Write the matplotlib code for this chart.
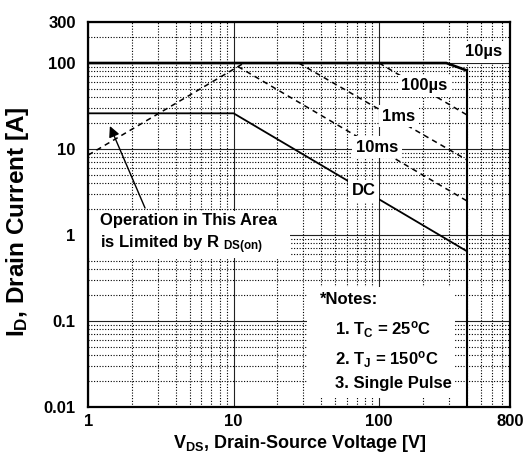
import matplotlib
matplotlib.use('Agg')
import matplotlib.pyplot as plt
from matplotlib.patches import Rectangle
from matplotlib.ticker import NullFormatter, FixedLocator, LogLocator

plt.rcParams['font.family'] = ['Liberation Sans', 'DejaVu Sans']
plt.rcParams['font.weight'] = 'bold'
plt.rcParams['mathtext.fontset'] = 'custom'
plt.rcParams['mathtext.rm'] = 'Liberation Sans:bold'
plt.rcParams['mathtext.it'] = 'Liberation Sans:bold'
plt.rcParams['mathtext.bf'] = 'Liberation Sans:bold'
plt.rcParams['mathtext.default'] = 'bf'

# ---- data ----
v_10us = [1, 290, 400]
i_10us = [100, 100, 82]
v_100us = [100, 400]
i_100us = [100, 25]
v_1ms = [28, 400]
i_1ms = [100, 7.5]
v_10ms = [10.7, 400]
i_10ms = [91, 2.5]
v_dc = [1, 10, 400]
i_dc = [26, 26, 0.65]
v_rds = [1, 11.8]
i_rds = [8.5, 100]
v_bv = [400, 400]
i_bv = [0.01, 82]

x_ticks = [1, 10, 100, 800]
x_ticklabels = ['1', '10', '100', '800']
y_ticks = [0.01, 0.1, 1, 10, 100, 300]
y_ticklabels = ['0.01', '0.1', '1', '10', '100', '300']

fig = plt.figure(figsize=(5.28, 4.57), dpi=100)
ax = fig.add_axes([0.1670, 0.1094, 0.7998, 0.8425])
ax.set_xscale('log')
ax.set_yscale('log')
ax.set_xlim(1, 800)
ax.set_ylim(0.01, 300)

ax.xaxis.set_major_locator(FixedLocator(x_ticks))
ax.set_xticklabels(x_ticklabels)
ax.yaxis.set_major_locator(FixedLocator(y_ticks))
ax.set_yticklabels(y_ticklabels)
ax.xaxis.set_minor_locator(LogLocator(base=10, subs=range(2, 10), numticks=20))
ax.yaxis.set_minor_locator(LogLocator(base=10, subs=range(2, 10), numticks=20))
ax.xaxis.set_minor_formatter(NullFormatter())
ax.yaxis.set_minor_formatter(NullFormatter())

ax.grid(which='major', color='#222222', lw=0.8, ls='-', zorder=1)
ax.grid(which='minor', color='black', lw=0.8, ls=(0, (1, 1.5)), zorder=1)
ax.tick_params(which='both', length=0)
ax.tick_params(axis='x', labelsize=12, pad=5)
ax.tick_params(axis='y', labelsize=12, pad=9)
for lab in ax.get_xticklabels() + ax.get_yticklabels():
    lab.set_fontweight('bold')
for s in ax.spines.values():
    s.set_linewidth(1.6)

# white areas behind annotations
ax.add_patch(Rectangle((0.0, 0.387), 0.478, 0.122, transform=ax.transAxes,
                       facecolor='white', edgecolor='none', zorder=1.8))
ax.add_patch(Rectangle((0.518, 0.023), 0.351, 0.289, transform=ax.transAxes,
                       facecolor='white', edgecolor='none', zorder=1.8))

dash = (0, (3.5, 2.8))
ax.plot(v_10us, i_10us, color='black', lw=1.9, zorder=3)
ax.plot(v_bv, i_bv, color='black', lw=1.5, zorder=3)
ax.plot(v_100us, i_100us, color='black', lw=1.1, ls=dash, zorder=3)
ax.plot(v_1ms, i_1ms, color='black', lw=1.1, ls=dash, zorder=3)
ax.plot(v_10ms, i_10ms, color='black', lw=1.1, ls=dash, zorder=3)
ax.plot(v_rds, i_rds, color='black', lw=1.1, ls=dash, zorder=3)
ax.plot(v_dc, i_dc, color='black', lw=1.3, zorder=3)

lbl = dict(transform=ax.transAxes, ha='center', va='center', fontsize=12,
           fontweight='bold', zorder=5,
           bbox=dict(facecolor='white', edgecolor='none', pad=2.5))
ax.text(0.937, 0.923, '10µs', **lbl)
ax.text(0.796, 0.835, '100µs', **lbl)
ax.text(0.736, 0.755, '1ms', **lbl)
ax.text(0.684, 0.674, '10ms', **lbl)
ax.text(0.653, 0.562, 'DC', **lbl)

ax.text(0.027, 0.448, 'Operation in This Area\nis Limited by R $_{DS(on)}$',
        transform=ax.transAxes, ha='left', va='center', fontsize=12,
        fontweight='bold', linespacing=1.3, zorder=5)
ax.annotate('', xy=(1.41, 18.5), xytext=(2.46, 2.06),
            arrowprops=dict(arrowstyle='-|>', color='black', lw=1.0,
                            mutation_scale=16, shrinkA=0, shrinkB=0),
            zorder=5)

nt = dict(transform=ax.transAxes, ha='left', va='center', fontsize=12,
          fontweight='bold', zorder=5)
ax.text(0.549, 0.278, '*Notes:', **nt)
ax.text(0.584, 0.202, '1. T$_{C}$ = 25$^{o}$C', **nt)
ax.text(0.584, 0.122, '2. T$_{J}$ = 150$^{o}$C', **nt)
ax.text(0.584, 0.060, '3. Single Pulse', **nt)

ax.set_xlabel('V$_{DS}$, Drain-Source Voltage [V]', fontsize=13,
              fontweight='bold', labelpad=3)
ax.set_ylabel('I$_{D}$, Drain Current [A]', fontsize=17.5, fontweight='bold')
ax.yaxis.set_label_coords(-0.135, 0.482)

fig.savefig('out.png', dpi=100)
